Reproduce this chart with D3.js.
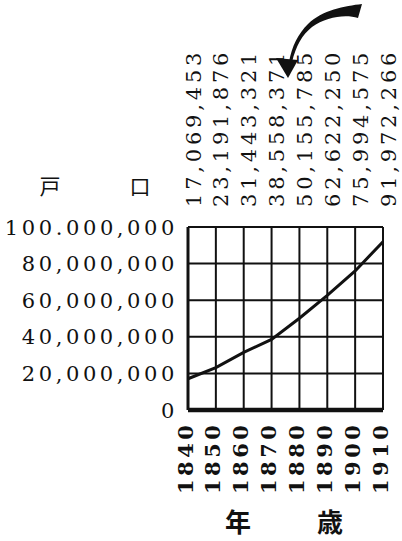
<!DOCTYPE html>
<html>
<head>
<meta charset="utf-8">
<script src="https://cdn.jsdelivr.net/npm/d3@7"></script>
<style>
  body { margin: 0; background: #fff; }
  svg { display: block; }
  .num { font-family: "DejaVu Serif", serif; fill: #111; }
  .cjk { font-family: "Noto Sans CJK JP", sans-serif; fill: #111; }
</style>
</head>
<body>
<div id="chart"></div>
<script>
const years = [1840, 1850, 1860, 1870, 1880, 1890, 1900, 1910];
const population = [17069453, 23191876, 31443321, 38558371, 50155785, 62622250, 75994575, 91972266];
const popLabels = ["17,069,453", "23,191,876", "31,443,321", "38,558,371", "50,155,785", "62,622,250", "75,994,575", "91,972,266"];
const yTicks = [0, 20000000, 40000000, 60000000, 80000000, 100000000];
const yTickLabels = ["0", "20,000,000", "40,000,000", "60,000,000", "80,000,000", "100.000,000"];

const width = 402, height = 541;

const svg = d3.select("#chart").append("svg")
  .attr("width", width)
  .attr("height", height);

// plot box
const x = d3.scaleLinear().domain([1840, 1910]).range([188, 383]);
const y = d3.scaleLinear().domain([0, 100000000]).range([410, 227]);

// grid
svg.append("g").selectAll("line.v")
  .data(years)
  .join("line")
  .attr("x1", d => x(d)).attr("x2", d => x(d))
  .attr("y1", y(100000000)).attr("y2", y(0))
  .attr("stroke", "#111")
  .attr("stroke-width", (d, i) => i == 0 ? 3 : 2);

svg.append("g").selectAll("line.h")
  .data(yTicks)
  .join("line")
  .attr("x1", x(1840)).attr("x2", x(1910))
  .attr("y1", d => y(d)).attr("y2", d => y(d))
  .attr("stroke", "#111")
  .attr("stroke-width", d => d == 0 ? 4.5 : 2);

// population line
let line = d3.line()
  .x((d, i) => x(years[i]))
  .y(d => y(d));

svg.append("path")
  .datum(population)
  .attr("d", line)
  .attr("fill", "none")
  .attr("stroke", "#111")
  .attr("stroke-width", 3);

// y tick labels
svg.append("g").selectAll("text")
  .data(yTicks)
  .join("text")
  .attr("class", "num")
  .attr("x", 178)
  .attr("y", d => y(d))
  .attr("dy", "0.36em")
  .attr("text-anchor", "end")
  .attr("font-size", 21)
  .attr("letter-spacing", 3.6)
  .text((d, i) => yTickLabels[i]);

// population labels on top, rotated
svg.append("g").selectAll("text")
  .data(years)
  .join("text")
  .attr("class", "num")
  .attr("transform", d => "translate(" + (x(d) + 5) + ",207) rotate(-90)")
  .attr("dy", "0.36em")
  .attr("text-anchor", "start")
  .attr("font-size", 21)
  .attr("letter-spacing", 3.8)
  .text((d, i) => popLabels[i]);

// year labels on bottom, rotated
svg.append("g").selectAll("text")
  .data(years)
  .join("text")
  .attr("class", "num")
  .attr("transform", d => "translate(" + (x(d) - 3) + ",494) rotate(-90)")
  .attr("dy", "0.36em")
  .attr("text-anchor", "start")
  .attr("font-size", 21)
  .attr("font-weight", "bold")
  .attr("letter-spacing", 3.5)
  .text(d => d);

// axis titles
svg.append("text").attr("class", "cjk")
  .attr("x", 50).attr("y", 194)
  .attr("text-anchor", "middle")
  .attr("font-size", 21)
  .text("戸");
svg.append("text").attr("class", "cjk")
  .attr("x", 140).attr("y", 194)
  .attr("text-anchor", "middle")
  .attr("font-size", 21)
  .text("口");
svg.append("text").attr("class", "cjk")
  .attr("x", 238).attr("y", 532)
  .attr("text-anchor", "middle")
  .attr("font-size", 26)
  .attr("font-weight", "bold")
  .text("年");
svg.append("text").attr("class", "cjk")
  .attr("x", 330).attr("y", 532)
  .attr("text-anchor", "middle")
  .attr("font-size", 26)
  .attr("font-weight", "bold")
  .text("歳");

// hand drawn arrow at top
const arrow = svg.append("g").attr("fill", "#111");
arrow.append("path")
  .attr("d", "M362,4 C345,6 322,10 308,24 C298,34 292,46 289,62 L292,62 C296,46 302,35 312,27 C326,17 345,14 358,18 Z");
arrow.append("path")
  .attr("d", "M276,58 L298,60 L288,78 Z");
</script>
</body>
</html>
